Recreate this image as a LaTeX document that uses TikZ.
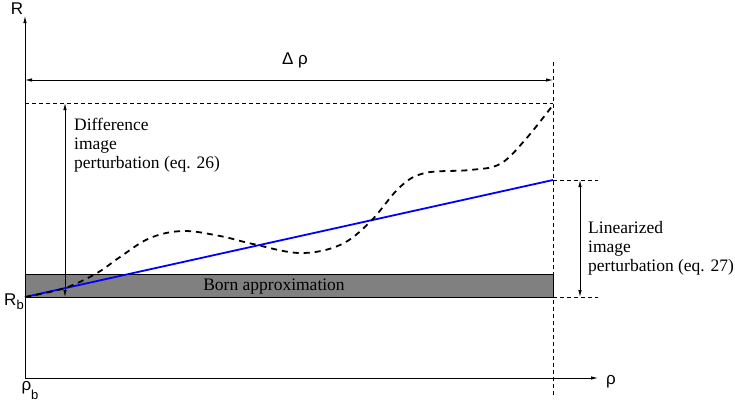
\documentclass[tikz,border=0pt]{standalone}
\usepackage{fontspec}
\setmainfont{Liberation Serif}
\newfontfamily\labsans{Liberation Sans}
\usetikzlibrary{arrows.meta}
\begin{document}
\begin{tikzpicture}[x=1pt,y=-1pt,
  tip/.style={-{Latex[length=7pt,width=3.5pt]}},
  bothtip/.style={{Latex[length=7pt,width=3.5pt]}-{Latex[length=7pt,width=3.5pt]}},
  guide/.style={line width=0.8pt,dash pattern=on 4pt off 3pt},
  serlab/.style={font=\fontsize{17.5}{19}\selectfont,align=left,inner sep=0pt},
  saxlab/.style={font=\labsans\fontsize{17}{20}\selectfont,inner sep=0pt}]
\useasboundingbox (0,0) rectangle (735,410);
% coordinates
\coordinate (O) at (25,378);
\coordinate (Ytop) at (25,16);
\coordinate (Xend) at (598,378);
\coordinate (Rb) at (25,297);
\coordinate (Bend) at (553,180);
\coordinate (Vtop) at (553,62);
\coordinate (Vbot) at (553,395);
\coordinate (Htl) at (25,103);
\coordinate (Htr) at (553,103);
\coordinate (Dl) at (25,80);
\coordinate (Dr) at (553,80);
\coordinate (Da) at (65,103);
\coordinate (Db) at (65,297);
\coordinate (La) at (580,180);
\coordinate (Lb) at (580,297);
\coordinate (Lt) at (598,180);
\coordinate (Lbt) at (598,297);
% Born band
\draw[line width=0.8pt,fill=black!50] (25,274) rectangle (553,297);
\node[serlab] (born) at (274,287) {Born approximation};
% axes
\draw[tip,line width=0.8pt] (O) -- (Ytop);
\draw[tip,line width=0.8pt] (O) -- (Xend);
% guides
\draw[guide] (Vtop) -- (Vbot);
\draw[guide] (Htl) -- (Htr);
\draw[guide] (Bend) -- (Lt);
\draw[guide] (553,297) -- (Lbt);
% arrows
\draw[bothtip,line width=0.8pt] (Dl) -- (Dr);
\draw[bothtip,line width=0.8pt] (Da) -- (Db);
\draw[bothtip,line width=0.8pt] (La) -- (Lb);
% blue line
\draw[blue,line width=1.8pt] (Rb) -- (Bend);
% dashed curve
\draw[line width=1.8pt,dash pattern=on 6pt off 5pt] plot[smooth,tension=0.6] coordinates
 {(25,297) (65,288) (97,273) (120,257) (150,238) (183,231) (220,236) (253,244) (300,253) (340,245) (370,222) (400,187) (425,173) (470,170) (500,164) (525,140) (553,105)};
% labels
\node[saxlab] (R) at (17,9) {R};
\node[saxlab] (rho) at (611,382) {ρ};
\node[saxlab,anchor=base] (Rblab) at (14,305) {R\raisebox{-4pt}{\fontsize{13}{13}\selectfont b}};
\node[saxlab,anchor=base] (rhob) at (30,390) {ρ\raisebox{-9pt}{\fontsize{13}{13}\selectfont b}};
\node[saxlab] (drho) at (295,60) {Δ ρ};
\node[serlab,anchor=north west] (diff) at (74,118) {Difference\\image\\perturbation (eq. 26)};
\node[serlab,anchor=north west] (lin) at (588,221) {Linearized\\image\\perturbation (eq. 27)};
\end{tikzpicture}
\end{document}
